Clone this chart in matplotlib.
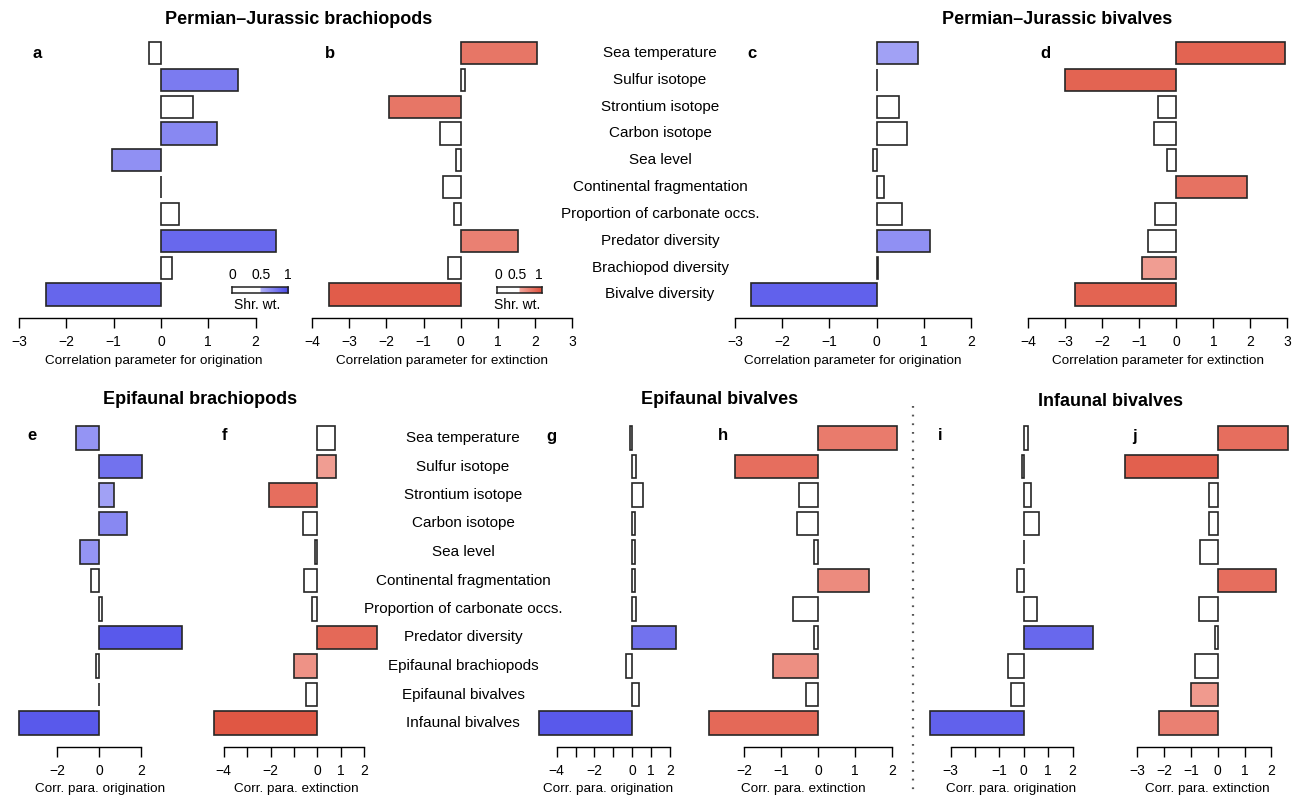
import matplotlib
matplotlib.use("Agg")
import matplotlib.pyplot as plt
import numpy as np
from matplotlib.lines import Line2D

plt.rcParams['font.family'] = ['Liberation Sans', 'DejaVu Sans']

# ---------------- data ----------------
top_labels = ["Sea temperature", "Sulfur isotope", "Strontium isotope", "Carbon isotope",
              "Sea level", "Continental fragmentation", "Proportion of carbonate occs.",
              "Predator diversity", "Brachiopod diversity", "Bivalve diversity"]
bottom_labels = ["Sea temperature", "Sulfur isotope", "Strontium isotope", "Carbon isotope",
                 "Sea level", "Continental fragmentation", "Proportion of carbonate occs.",
                 "Predator diversity", "Epifaunal brachiopods", "Epifaunal bivalves",
                 "Infaunal bivalves"]

a_vals = [-0.25, 1.62, 0.67, 1.18, -1.04, 0.01, 0.37, 2.44, 0.23, -2.43]
a_wts = [0.30, 0.76, 0.30, 0.70, 0.66, 0.30, 0.30, 0.85, 0.30, 0.86]
b_vals = [2.05, 0.12, -1.93, -0.57, -0.13, -0.49, -0.19, 1.55, -0.33, -3.54]
b_wts = [0.78, 0.30, 0.78, 0.30, 0.30, 0.30, 0.30, 0.72, 0.30, 0.92]
c_vals = [0.87, 0.01, 0.48, 0.65, -0.07, 0.16, 0.54, 1.13, 0.02, -2.66]
c_wts = [0.58, 0.30, 0.30, 0.30, 0.30, 0.30, 0.30, 0.66, 0.30, 0.88]
d_vals = [2.93, -2.99, -0.50, -0.60, -0.26, 1.90, -0.58, -0.76, -0.93, -2.72]
d_wts = [0.88, 0.88, 0.30, 0.30, 0.30, 0.80, 0.30, 0.30, 0.56, 0.88]

e_vals = [-1.09, 2.05, 0.74, 1.36, -0.90, -0.37, 0.16, 3.97, -0.12, 0.0, -3.84]
e_wts = [0.64, 0.80, 0.58, 0.70, 0.64, 0.30, 0.30, 0.92, 0.30, 0.30, 0.92]
f_vals = [0.77, 0.78, -2.05, -0.63, -0.11, -0.57, -0.24, 2.55, -1.01, -0.47, -4.42]
f_wts = [0.30, 0.56, 0.82, 0.30, 0.30, 0.30, 0.30, 0.85, 0.62, 0.30, 0.95]
g_vals = [-0.10, 0.21, 0.56, 0.16, 0.16, 0.14, 0.18, 2.33, -0.32, 0.37, -4.92]
g_wts = [0.30, 0.30, 0.30, 0.30, 0.30, 0.30, 0.30, 0.80, 0.30, 0.30, 0.92]
h_vals = [2.14, -2.24, -0.53, -0.57, -0.11, 1.38, -0.69, -0.12, -1.22, -0.32, -2.96]
h_wts = [0.75, 0.82, 0.30, 0.30, 0.30, 0.66, 0.30, 0.30, 0.64, 0.30, 0.85]
i_vals = [0.19, -0.08, 0.29, 0.64, 0.01, -0.27, 0.53, 2.83, -0.64, -0.53, -3.84]
i_wts = [0.30, 0.30, 0.30, 0.30, 0.30, 0.30, 0.30, 0.85, 0.30, 0.30, 0.88]
j_vals = [2.62, -3.45, -0.31, -0.31, -0.67, 2.16, -0.70, -0.09, -0.83, -1.00, -2.19]
j_wts = [0.82, 0.90, 0.30, 0.30, 0.30, 0.82, 0.30, 0.30, 0.30, 0.58, 0.72]

top_titles = ["Permian\u2013Jurassic brachiopods", "Permian\u2013Jurassic bivalves"]
bottom_titles = ["Epifaunal brachiopods", "Epifaunal bivalves", "Infaunal bivalves"]
long_xlabels = ["Correlation parameter for origination", "Correlation parameter for extinction"]
short_xlabels = ["Corr. para. origination", "Corr. para. extinction"]
weight_ticks = ["0", "0.5", "1"]
weight_label = "Shr. wt."

# ---------------- colours ----------------
BLUE_LIGHT = np.array([178, 178, 248]) / 255
BLUE_DARK = np.array([72, 72, 232]) / 255
RED_LIGHT = np.array([243, 168, 158]) / 255
RED_DARK = np.array([222, 78, 58]) / 255


def wcolor(w, kind):
    if w < 0.5:
        return (1, 1, 1)
    t = (w - 0.5) / 0.5
    lo, hi = (BLUE_LIGHT, BLUE_DARK) if kind == 'b' else (RED_LIGHT, RED_DARK)
    return tuple(lo + t * (hi - lo))


# ---------------- layout ----------------
W, H = 1298, 798
fig = plt.figure(figsize=(W / 100, H / 100), dpi=100)


def make_axes(zero_px, unit_px, xlim, y0, spacing, n):
    left = zero_px + xlim[0] * unit_px
    width = (xlim[1] - xlim[0]) * unit_px
    top = y0 - 0.6 * spacing
    bottom = y0 + (n - 1 + 0.6) * spacing
    ax = fig.add_axes([left / W, 1 - bottom / H, width / W, (bottom - top) / H])
    ax.set_xlim(*xlim)
    ax.set_ylim(n - 1 + 0.6, -0.6)
    ax.patch.set_alpha(0)
    return ax


def draw_panel(ax, vals, wts, kind, ticks, shown, xlabel, offset, pad, lab_pad):
    n = len(vals)
    cols = [wcolor(w, kind) for w in wts]
    ax.barh(np.arange(n), vals, height=0.83, color=cols, edgecolor='#262626',
            linewidth=1.2, clip_on=False)
    for s in ['top', 'right', 'left']:
        ax.spines[s].set_visible(False)
    ax.spines['bottom'].set_position(('outward', offset))
    ax.spines['bottom'].set_bounds(ticks[0], ticks[-1])
    ax.spines['bottom'].set_linewidth(1.0)
    ax.set_yticks([])
    ax.set_xticks(ticks)
    ax.set_xticklabels([(str(t).replace('-', '\u2212') if t in shown else '') for t in ticks])
    ax.tick_params(axis='x', length=7, width=1.0, labelsize=10, pad=pad)
    ax.set_xlabel(xlabel, fontsize=9.7, labelpad=lab_pad)


# top row
TOP_Y0, TOP_SP = 53, 26.83
top_specs = [
    (161.0, 47.3, (-3.1, 2.8), a_vals, a_wts, 'b', [-3, -2, -1, 0, 1, 2], long_xlabels[0]),
    (460.7, 37.14, (-4.1, 3.1), b_vals, b_wts, 'r', [-4, -3, -2, -1, 0, 1, 2, 3], long_xlabels[1]),
    (876.7, 47.27, (-3.1, 2.1), c_vals, c_wts, 'b', [-3, -2, -1, 0, 1, 2], long_xlabels[0]),
    (1176.3, 37.06, (-4.1, 3.1), d_vals, d_wts, 'r', [-4, -3, -2, -1, 0, 1, 2, 3], long_xlabels[1]),
]
for zp, up, xl, v, w, k, tk, lab in top_specs:
    ax = make_axes(zp, up, xl, TOP_Y0, TOP_SP, len(v))
    draw_panel(ax, v, w, k, tk, tk, lab, 5.5, 5.2, 4.5)

# bottom row
BOT_Y0, BOT_SP = 438, 28.5
bot_specs = [
    (99.0, 20.85, (-4.0, 4.1), e_vals, e_wts, 'b', [-2, 0, 2], [-2, 0, 2], short_xlabels[0]),
    (317.3, 23.4, (-4.5, 2.7), f_vals, f_wts, 'r', [-4, -3, -2, -1, 0, 1, 2], [-4, -2, 0, 1, 2], short_xlabels[1]),
    (632.3, 18.9, (-5.0, 2.4), g_vals, g_wts, 'b', [-4, -3, -2, -1, 0, 1, 2], [-4, -2, 0, 1, 2], short_xlabels[0]),
    (818.3, 37.0, (-3.0, 2.2), h_vals, h_wts, 'r', [-2, -1, 0, 1, 2], [-2, -1, 0, 1, 2], short_xlabels[1]),
    (1023.7, 24.4, (-3.9, 2.9), i_vals, i_wts, 'b', [-3, -2, -1, 0, 1, 2], [-3, -1, 0, 1, 2], short_xlabels[0]),
    (1217.7, 26.8, (-3.5, 2.7), j_vals, j_wts, 'r', [-3, -2, -1, 0, 1, 2], [-3, -2, -1, 0, 1, 2], short_xlabels[1]),
]
for zp, up, xl, v, w, k, tk, sh, lab in bot_specs:
    ax = make_axes(zp, up, xl, BOT_Y0, BOT_SP, len(v))
    draw_panel(ax, v, w, k, tk, sh, lab, 5.0, 5.4, 3.5)


def ftext(x, y, s, **kw):
    fig.text(x / W, 1 - y / H, s, **kw)


# category labels
for i, lab in enumerate(top_labels):
    ftext(660, TOP_Y0 + i * TOP_SP, lab, ha='center', va='center', fontsize=11)
for i, lab in enumerate(bottom_labels):
    ftext(463, BOT_Y0 + i * BOT_SP, lab, ha='center', va='center', fontsize=11)

# titles
ftext(299, 20, top_titles[0], ha='center', va='center', fontsize=13, fontweight='bold')
ftext(1057, 20, top_titles[1], ha='center', va='center', fontsize=13, fontweight='bold')
ftext(200, 399, bottom_titles[0], ha='center', va='center', fontsize=13, fontweight='bold')
ftext(720, 399, bottom_titles[1], ha='center', va='center', fontsize=13, fontweight='bold')
ftext(1110, 402, bottom_titles[2], ha='center', va='center', fontsize=13, fontweight='bold')

# panel letters
letters = [('a', 37, 53), ('b', 330, 53), ('c', 752, 53), ('d', 1045, 53),
           ('e', 32, 436), ('f', 225, 436), ('g', 551, 436), ('h', 723, 436),
           ('i', 940, 436), ('j', 1135, 436)]
for s, x, y in letters:
    ftext(x, y, s, ha='center', va='center', fontsize=12, fontweight='bold')

# dotted separator
fig.add_artist(Line2D([913.3 / W, 913.3 / W], [1 - 406 / H, 1 - 790 / H],
                      transform=fig.transFigure, color='#555555', linewidth=1.6,
                      linestyle=(0, (0.8, 3.1))))


# weight colour bars
def weight_bar(x0, x1, y0, y1, kind, tick_x, lab_x):
    cax = fig.add_axes([x0 / W, 1 - y1 / H, (x1 - x0) / W, (y1 - y0) / H])
    ws = np.linspace(0, 1, 200)
    img = np.array([[wcolor(w, kind) for w in ws]])
    cax.imshow(img, aspect='auto', extent=(0, 1, 0, 1))
    cax.set_xticks([])
    cax.set_yticks([])
    for s in cax.spines.values():
        s.set_linewidth(1.1)
        s.set_color('#222222')
    for t, tx in zip(weight_ticks, tick_x):
        ftext(tx, y0 - 11.5, t, ha='center', va='center', fontsize=10)
    ftext(lab_x, y1 + 12, weight_label, ha='center', va='center', fontsize=10)


weight_bar(232, 288.3, 286.7, 293.3, 'b', [232, 261, 288], 257.5)
weight_bar(497.3, 541.7, 286.7, 293.3, 'r', [498.5, 517, 539], 517.5)

fig.savefig("out.png", dpi=100)
